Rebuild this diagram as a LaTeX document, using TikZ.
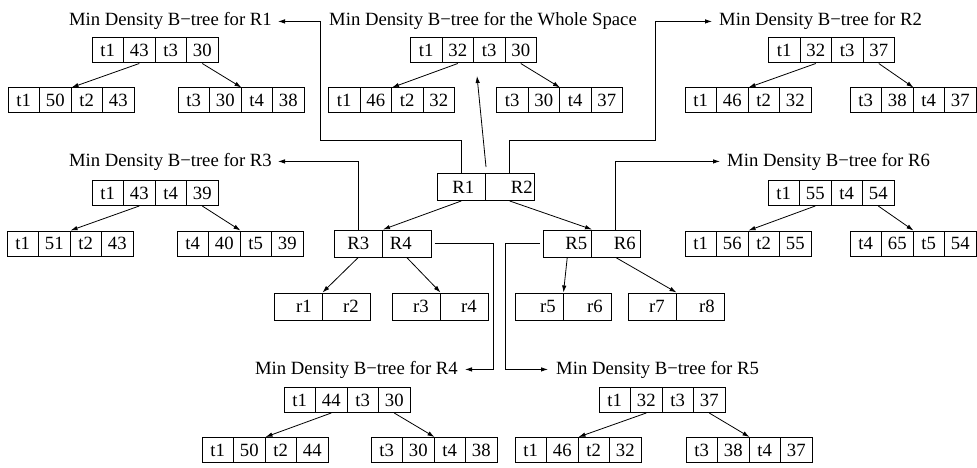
\documentclass[tikz,border=0pt]{standalone}
\usepackage{fontspec}
\setmainfont{Liberation Serif}
\usetikzlibrary{arrows.meta,calc}
\tikzset{
  cell/.style={draw, line width=1pt, minimum width=31.5pt, minimum height=25pt, inner sep=0pt},
  half/.style={draw, line width=1pt, minimum width=48.5pt, minimum height=27pt, inner sep=0pt},
  small/.style={draw, line width=1pt, minimum width=48pt, minimum height=27pt, inner sep=0pt},
  title/.style={inner sep=0pt},
  link/.style={line width=0.8pt, -{Latex[length=7pt,width=4.5pt]}},
}
% four-cell record: name, centre x, centre y, four labels
\newcommand\brec[7]{%
  \node[cell] (#1a) at ({#2-47.25},#3) {#4};
  \node[cell] (#1b) at ({#2-15.75},#3) {#5};
  \node[cell] (#1c) at ({#2+15.75},#3) {#6};
  \node[cell] (#1d) at ({#2+47.25},#3) {#7};
}
% arrows from a root record to its two children
\newcommand\bkids[3]{%
  \draw[link] (#1b.south) -- (#2b.north east);
  \draw[link] (#1d.south) -- (#3b.north east);
}
\begin{document}
\fontsize{18.7}{22}\selectfont
\begin{tikzpicture}[x=1pt,y=-1pt]
\useasboundingbox (0,0) rectangle (977,468);

% ---- titles
\node[title, anchor=base east] (tR1) at (272,26) {Min Density B−tree for R1};
\node[title, anchor=base] (tW) at (483,26) {Min Density B−tree for the Whole Space};
\node[title, anchor=base west] (tR2) at (719,26) {Min Density B−tree for R2};
\node[title, anchor=base east] (tR3) at (272,166) {Min Density B−tree for R3};
\node[title, anchor=base west] (tR6) at (727,166) {Min Density B−tree for R6};
\node[title, anchor=base east] (tR4) at (458,374) {Min Density B−tree for R4};
\node[title, anchor=base west] (tR5) at (556,374) {Min Density B−tree for R5};

% ---- B-trees
\brec{Pr}{155}{50.5}{t1}{43}{t3}{30}
\brec{Pl}{71}{100.5}{t1}{50}{t2}{43}
\brec{Pq}{241}{100.5}{t3}{30}{t4}{38}
\bkids{Pr}{Pl}{Pq}

\brec{Wr}{473.5}{50.5}{t1}{32}{t3}{30}
\brec{Wl}{391.5}{100.5}{t1}{46}{t2}{32}
\brec{Wq}{559.5}{100.5}{t3}{30}{t4}{37}
\bkids{Wr}{Wl}{Wq}

\brec{Qr}{831.5}{50.5}{t1}{32}{t3}{37}
\brec{Ql}{748}{100.5}{t1}{46}{t2}{32}
\brec{Qq}{913}{100.5}{t3}{38}{t4}{37}
\bkids{Qr}{Ql}{Qq}

\brec{Sr}{155}{193}{t1}{43}{t4}{39}
\brec{Sl}{70}{243.5}{t1}{51}{t2}{43}
\brec{Sq}{240}{243.5}{t4}{40}{t5}{39}
\bkids{Sr}{Sl}{Sq}

\brec{Xr}{831}{193}{t1}{55}{t4}{54}
\brec{Xl}{748}{243.5}{t1}{56}{t2}{55}
\brec{Xq}{913}{243.5}{t4}{65}{t5}{54}
\bkids{Xr}{Xl}{Xq}

\brec{Fr}{347}{400}{t1}{44}{t3}{30}
\brec{Fl}{265}{450}{t1}{50}{t2}{44}
\brec{Fq}{434}{450}{t3}{30}{t4}{38}
\bkids{Fr}{Fl}{Fq}

\brec{Vr}{662}{400}{t1}{32}{t3}{37}
\brec{Vl}{578}{450}{t1}{46}{t2}{32}
\brec{Vq}{749}{450}{t3}{38}{t4}{37}
\bkids{Vr}{Vl}{Vq}

% ---- R-tree nodes
\node[half] (R1) at (461.25,187) {\hspace*{4pt}R1};
\node[half] (R2) at (509.75,187) {\hspace*{24pt}R2};
\node[half] (R3) at (358.25,243.5) {R3};
\node[half] (R4) at (406.75,243.5) {\hspace*{-12pt}R4};
\node[half] (R5) at (567.25,243.5) {\hspace*{18pt}R5};
\node[half] (R6) at (615.75,243.5) {\hspace*{18pt}R6};

\node[small] (r1) at (298,306.5) {\hspace*{12pt}r1};
\node[small] (r2) at (346,306.5) {\hspace*{10pt}r2};
\node[small] (r3) at (416,306.5) {\hspace*{10pt}r3};
\node[small] (r4) at (464,306.5) {\hspace*{10pt}r4};
\node[small] (r5) at (539,306.5) {\hspace*{18pt}r5};
\node[small] (r6) at (587,306.5) {\hspace*{16pt}r6};
\node[small] (r7) at (652,306.5) {\hspace*{10pt}r7};
\node[small] (r8) at (700,306.5) {\hspace*{14pt}r8};

\draw[link] (R1.south) -- (R3.north east);
\draw[link] (R2.south) -- (R5.north east);
\draw[link] (R3.south) -- (r1.north east);
\draw[link] (R4.south) -- (r3.north east);
\draw[link] (R5.south) -- (r5.north east);
\draw[link] (R6.south) -- (r7.north east);

% ---- links to the B-trees
\coordinate (kR1) at (320,140);
\coordinate (kR2) at (655,140);
\coordinate (kR4) at (493,243.5);
\coordinate (kR5) at (505,243.5);
\coordinate (wtip) at (477,76);

\draw[link] (R1.north) |- (kR1) |- ([xshift=6pt]tR1.east);
\draw[link] (R2.north) |- (kR2) |- ([xshift=-7pt]tR2.west);
\draw[link] ([yshift=6pt]R1.north east) -- (wtip);
\draw[link] (R3.north) |- ([xshift=6pt]tR3.east);
\draw[link] (R6.north) |- ([xshift=-7pt]tR6.west);
\draw[link] ([xshift=3pt]R4.east) -- (kR4) |- ([xshift=7pt]tR4.east);
\draw[link] ([xshift=-3pt]R5.west) -- (kR5) |- ([xshift=-8pt]tR5.west);
\end{tikzpicture}
\end{document}
